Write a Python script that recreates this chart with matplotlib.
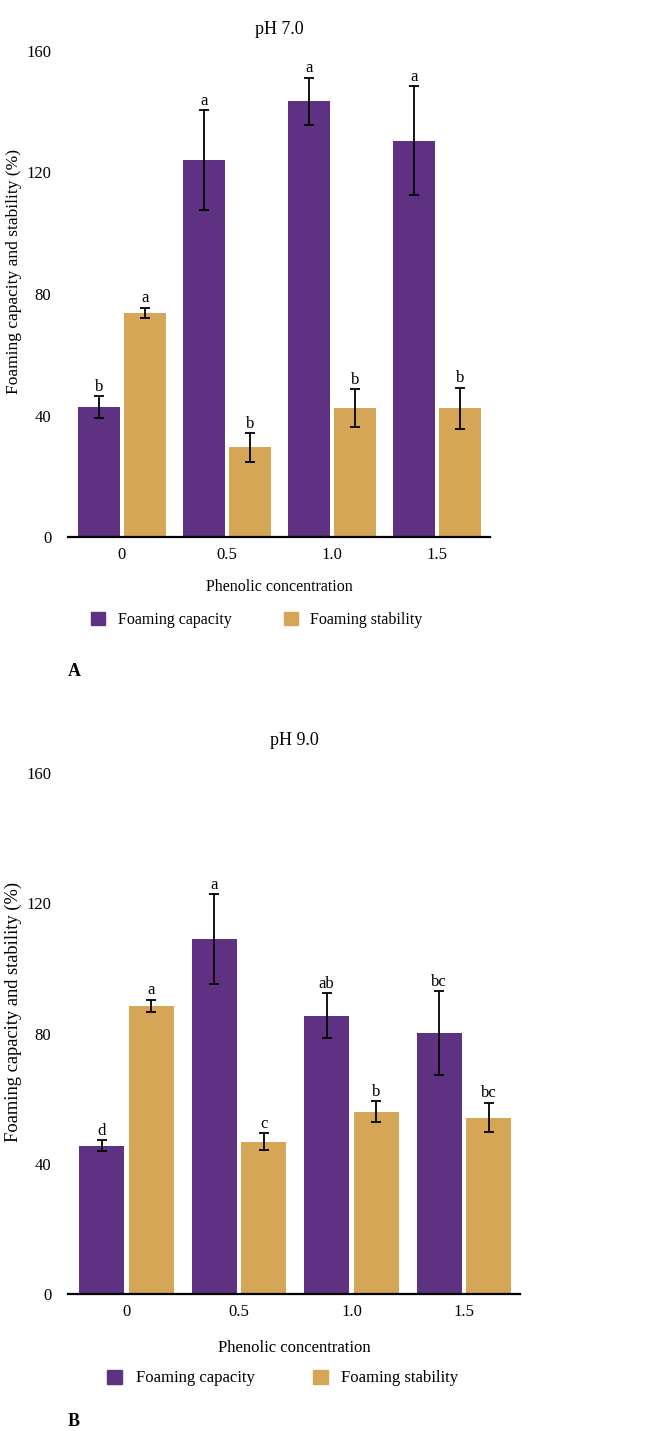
import numpy as np
import matplotlib
matplotlib.use("Agg")
import matplotlib.pyplot as plt
from matplotlib.patches import Patch

plt.rcParams['font.family'] = ['Liberation Serif', 'DejaVu Serif']

# data
concentrations = ['0', '0.5', '1.0', '1.5']

# pH 7.0
fc_ph7 = [42.8, 124.0, 143.5, 130.5]
fc_ph7_err = [3.5, 16.5, 7.7, 18.0]
fs_ph7 = [73.8, 29.5, 42.4, 42.4]
fs_ph7_err = [1.7, 4.7, 6.3, 6.7]
fc_ph7_letters = ['b', 'a', 'a', 'a']
fs_ph7_letters = ['a', 'b', 'b', 'b']

# pH 9.0
fc_ph9 = [45.5, 109.0, 85.5, 80.2]
fc_ph9_err = [1.7, 13.7, 6.8, 12.8]
fs_ph9 = [88.5, 46.8, 56.0, 54.2]
fs_ph9_err = [1.9, 2.6, 3.2, 4.5]
fc_ph9_letters = ['d', 'a', 'ab', 'bc']
fs_ph9_letters = ['a', 'c', 'b', 'bc']

PURPLE = '#5e3182'
GOLD = '#d5a655'


def draw_panel(ax, fc, fc_err, fs, fs_err, fc_let, fs_let, title, xlim, title_pad):
    x = np.arange(len(concentrations))
    w = 0.4
    off = 0.22
    ax.bar(x - off, fc, w, color=PURPLE)
    ax.bar(x + off, fs, w, color=GOLD)
    ax.errorbar(x - off, fc, yerr=fc_err, fmt='none', ecolor='black',
                elinewidth=1.3, capsize=3.5, capthick=1.3)
    ax.errorbar(x + off, fs, yerr=fs_err, fmt='none', ecolor='black',
                elinewidth=1.3, capsize=3.5, capthick=1.3)

    # significance letters above the error bars
    for xi, v, e, t in zip(x - off, fc, fc_err, fc_let):
        ax.annotate(t, (xi, v + e), xytext=(0, 1), textcoords='offset points',
                    ha='center', va='bottom', fontsize=12)
    for xi, v, e, t in zip(x + off, fs, fs_err, fs_let):
        ax.annotate(t, (xi, v + e), xytext=(0, 1), textcoords='offset points',
                    ha='center', va='bottom', fontsize=12)

    ax.set_xlim(*xlim)
    ax.set_ylim(0, 160)
    ax.set_yticks([0, 40, 80, 120, 160])
    ax.set_xticks(x)
    ax.set_xticklabels(concentrations)
    for s in ['top', 'right', 'left']:
        ax.spines[s].set_visible(False)
    ax.spines['bottom'].set_linewidth(1.6)
    ax.tick_params(axis='y', length=0, pad=12, labelsize=12)
    ax.tick_params(axis='x', length=0, pad=7, labelsize=12)
    ax.set_title(title, fontsize=13, pad=title_pad)


fig = plt.figure(figsize=(6.65, 14.31), dpi=100)
W, H = 665.0, 1431.0

axA = fig.add_axes([68 / W, 1 - 537 / H, 422 / W, 486 / H])
draw_panel(axA, fc_ph7, fc_ph7_err, fs_ph7, fs_ph7_err,
           fc_ph7_letters, fs_ph7_letters, 'pH 7.0', (-0.514, 3.505), 12)
axA.set_xlabel('Phenolic concentration', fontsize=11.5)
axA.xaxis.set_label_coords(0.5, (537 - 587) / 486)
axA.xaxis.label.set_va('center')
axA.set_ylabel('Foaming capacity and stability (%)', fontsize=12.5)
axA.yaxis.set_label_coords((22 - 68) / 422, (537 - 271) / 486)

axB = fig.add_axes([68 / W, 1 - 1294 / H, 452 / W, 521 / H])
draw_panel(axB, fc_ph9, fc_ph9_err, fs_ph9, fs_ph9_err,
           fc_ph9_letters, fs_ph9_letters, 'pH 9.0', (-0.52, 3.498), 20)
axB.set_xlabel('Phenolic concentration', fontsize=12)
axB.xaxis.set_label_coords(0.5, (1294 - 1348) / 521)
axB.xaxis.label.set_va('center')
axB.set_ylabel('Foaming capacity and stability (%)', fontsize=13.3)
axB.yaxis.set_label_coords((22 - 68) / 452, (1294 - 1012) / 521)

handles = [Patch(color=PURPLE, label='Foaming capacity'),
           Patch(color=GOLD, label='Foaming stability')]
axA.legend(handles=handles, loc='center', bbox_to_anchor=(257 / W, 1 - 620 / H),
           bbox_transform=fig.transFigure, ncol=2, frameon=False, fontsize=11.5,
           handlelength=0.85, handleheight=0.85, handletextpad=0.8,
           columnspacing=3.3)
axB.legend(handles=handles, loc='center', bbox_to_anchor=(283 / W, 1 - 1378 / H),
           bbox_transform=fig.transFigure, ncol=2, frameon=False, fontsize=12,
           handlelength=0.9, handleheight=0.9, handletextpad=0.8,
           columnspacing=3.5)

fig.text(68 / W, 1 - 672 / H, 'A', fontsize=13, weight='bold', va='center')
fig.text(68 / W, 1 - 1422 / H, 'B', fontsize=13, weight='bold', va='center')

fig.savefig('out.png', dpi=100)
